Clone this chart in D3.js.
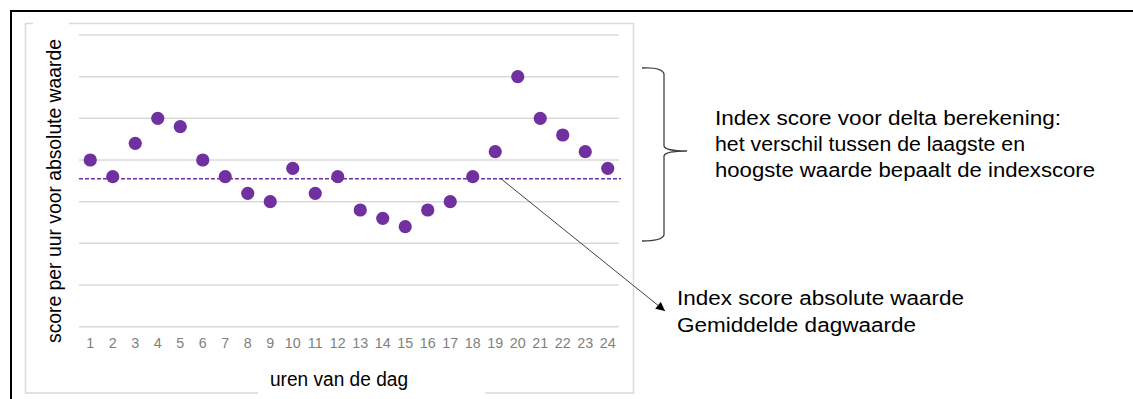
<!DOCTYPE html>
<html>
<head>
<meta charset="utf-8">
<script src="https://cdn.jsdelivr.net/npm/d3@7"></script>
<style>
  html, body { margin: 0; padding: 0; background: #fff; }
  svg { display: block; font-family: "Liberation Sans", Arial, sans-serif; }
</style>
</head>
<body>
<svg id="chart" width="1133" height="399"></svg>
<script>
// ---- data ----
const hours = ["1","2","3","4","5","6","7","8","9","10","11","12","13","14","15","16","17","18","19","20","21","22","23","24"];
const scores = [4.0, 3.6, 4.4, 5.0, 4.8, 4.0, 3.6, 3.2, 3.0, 3.8, 3.2, 3.6, 2.8, 2.6, 2.4, 2.8, 3.0, 3.6, 4.2, 6.0, 5.0, 4.6, 4.2, 3.8];
const averageValue = 3.55;
const gridTicks = [0, 1, 2, 3, 4, 5, 6, 7];
const yTitle = "score per uur voor absolute waarde";
const xTitle = "uren van de dag";
const deltaNote = ["Index score voor delta berekening:", "het verschil tussen de laagste en", "hoogste waarde bepaalt de indexscore"];
const absNote = ["Index score absolute waarde", "Gemiddelde dagwaarde"];

const svg = d3.select("#chart");
const purple = "#7030A0";

// outer border (left + top)
svg.append("path").attr("d", "M11,399 L11,11 L1133,11")
  .attr("fill", "none").attr("stroke", "#000").attr("stroke-width", 2);

// chart frame
svg.append("rect").attr("x", 25.5).attr("y", 23.5).attr("width", 608).attr("height", 369.5)
  .attr("fill", "none").attr("stroke", "#d9d9d9").attr("stroke-width", 1.5);
// white boxes behind the axis titles (interrupt frame)
svg.append("rect").attr("x", 33).attr("y", 20).attr("width", 36).attr("height", 10).attr("fill", "#fff");
svg.append("rect").attr("x", 258).attr("y", 388).attr("width", 227).attr("height", 11).attr("fill", "#fff");

// scales
const x = d3.scaleBand().domain(hours).range([79, 619]);
const y = d3.scaleLinear().domain([0, 7]).range([326.7, 35]);

// gridlines
svg.append("g").selectAll("line").data(gridTicks).join("line")
  .attr("x1", 79).attr("x2", 619)
  .attr("y1", d => y(d)).attr("y2", d => y(d))
  .attr("stroke", "#d9d9d9").attr("stroke-width", 1.5);

// x axis tick labels
const xAxis = d3.axisBottom(x).tickSize(0).tickPadding(0);
const gx = svg.append("g").attr("transform", `translate(0,${y(0) + 21.3})`).call(xAxis);
gx.select(".domain").remove();
gx.selectAll("text").attr("fill", "#7f7f7f").attr("font-size", 14.3)
  .attr("dy", 0).attr("font-family", "Liberation Sans, Arial, sans-serif");

// average dashed line
svg.append("line")
  .attr("x1", 79).attr("x2", 621)
  .attr("y1", y(averageValue)).attr("y2", y(averageValue))
  .attr("stroke", purple).attr("stroke-width", 1.3).attr("stroke-dasharray", "4,2");

// points
svg.append("g").selectAll("circle").data(scores).join("circle")
  .attr("cx", (d, i) => x(hours[i]) + x.bandwidth() / 2)
  .attr("cy", d => y(d))
  .attr("r", 6.6)
  .attr("fill", purple);

// axis titles
svg.append("text")
  .attr("transform", "translate(60.5,191) rotate(-90)")
  .attr("text-anchor", "middle")
  .attr("font-size", 19.5).attr("fill", "#000")
  .attr("textLength", 304).attr("lengthAdjust", "spacingAndGlyphs")
  .text(yTitle);

svg.append("text")
  .attr("x", 270).attr("y", 386)
  .attr("font-size", 19.5).attr("fill", "#000")
  .attr("textLength", 138).attr("lengthAdjust", "spacingAndGlyphs")
  .text(xTitle);

// brace
const brace = "M642,68 Q662,67 664,74 L664,146 Q665,151 687,151 Q665,151 664,156 L664,235 Q662,241 642,241";
svg.append("path").attr("d", brace).attr("fill", "none")
  .attr("stroke", "#404040").attr("stroke-width", 1.3);

// arrow
const defs = svg.append("defs");
defs.append("marker").attr("id", "arrow")
  .attr("viewBox", "0 0 10 10").attr("refX", 10).attr("refY", 5)
  .attr("markerWidth", 11).attr("markerHeight", 9).attr("markerUnits", "userSpaceOnUse")
  .attr("orient", "auto")
  .append("path").attr("d", "M0,0 L10,5 L0,10 Z").attr("fill", "#000");
svg.append("line")
  .attr("x1", 501).attr("y1", y(averageValue))
  .attr("x2", 665).attr("y2", 311)
  .attr("stroke", "#404040").attr("stroke-width", 1)
  .attr("marker-end", "url(#arrow)");

// annotation texts
const deltaLens = [346, 310, 380];
svg.append("g").selectAll("text").data(deltaNote).join("text")
  .attr("x", 715).attr("y", (d, i) => 124.5 + i * 26.2)
  .attr("font-size", 19.5).attr("fill", "#000")
  .attr("textLength", (d, i) => deltaLens[i]).attr("lengthAdjust", "spacingAndGlyphs")
  .text(d => d);

const absLens = [287, 239];
svg.append("g").selectAll("text").data(absNote).join("text")
  .attr("x", 677).attr("y", (d, i) => 305 + i * 26.7)
  .attr("font-size", 19.5).attr("fill", "#000")
  .attr("textLength", (d, i) => absLens[i]).attr("lengthAdjust", "spacingAndGlyphs")
  .text(d => d);
</script>
</body>
</html>
